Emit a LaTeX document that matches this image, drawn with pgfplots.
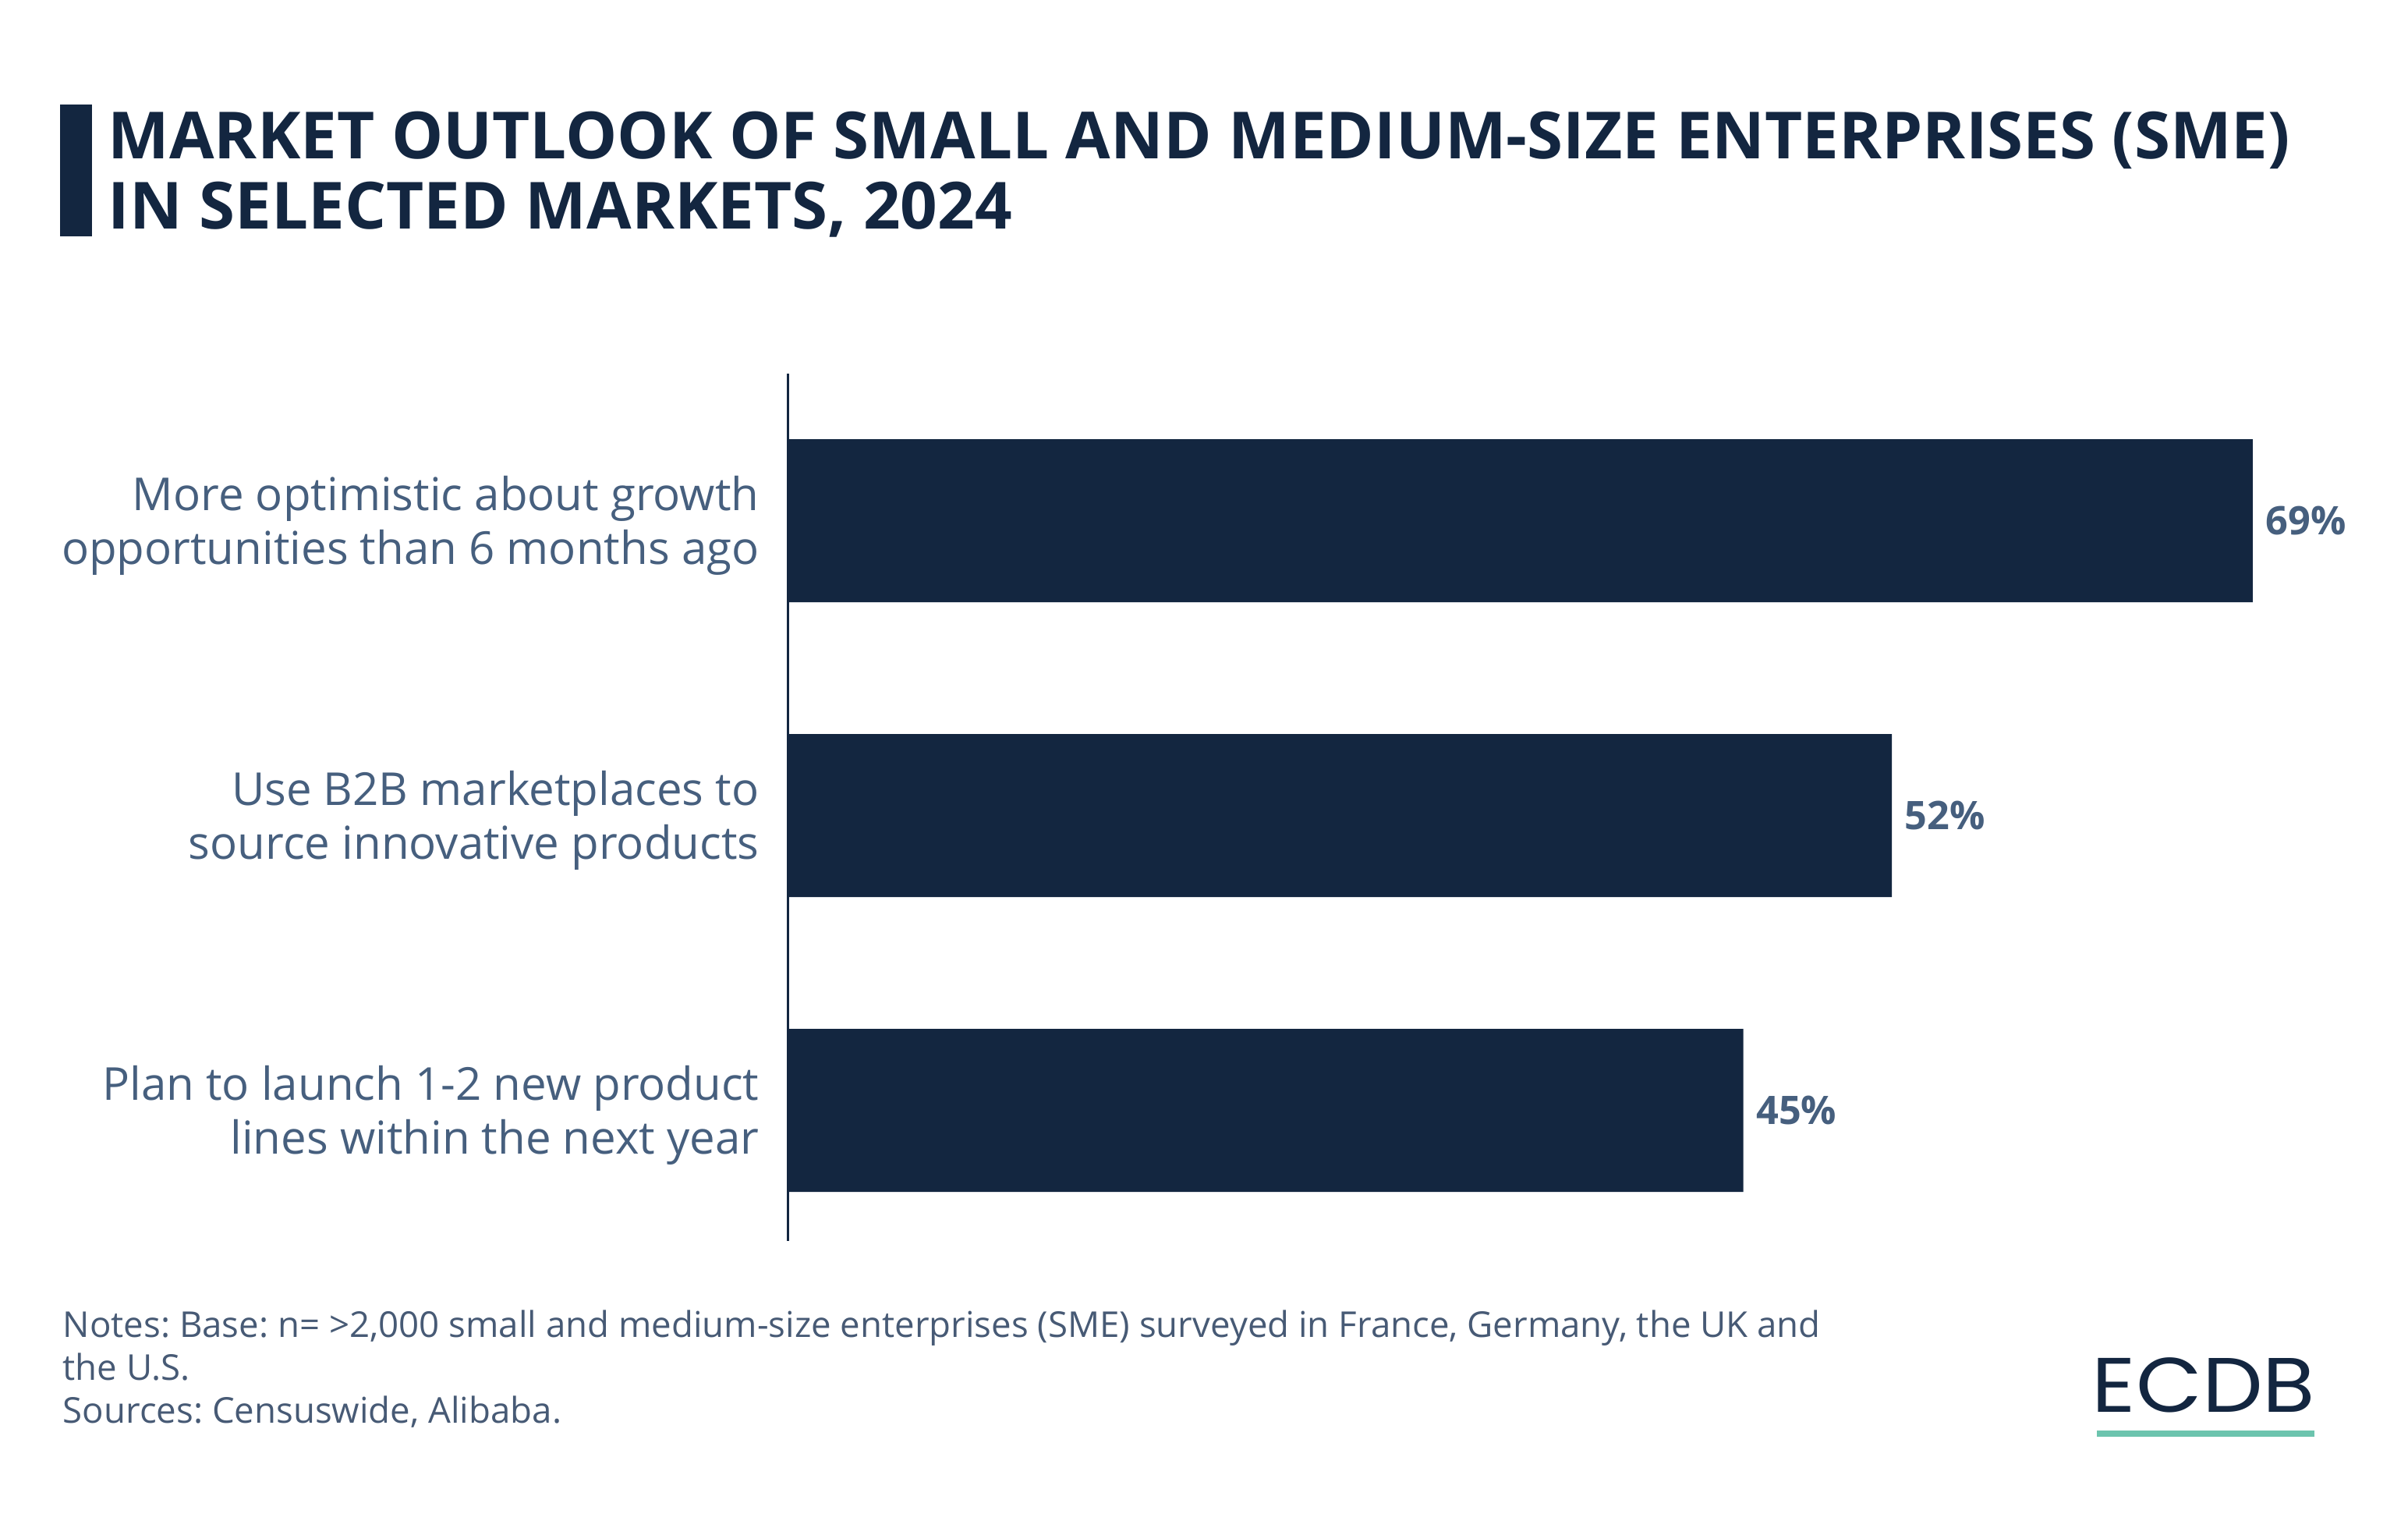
\documentclass[border=0pt]{standalone}
\usepackage{fontspec}
\setmainfont{Open Sans}
\newfontfamily\logofont{Poppins}
\usepackage{pgfplots}
\pgfplotsset{compat=1.18}
\frenchspacing
\definecolor{navy}{HTML}{132640}
\definecolor{slate}{HTML}{465F7E}
\definecolor{notecol}{HTML}{475A75}
\definecolor{ecdbgreen}{HTML}{6CC4AE}
\begin{document}
\begin{tikzpicture}
\path[use as bounding box, fill=white] (0,0) rectangle (772pt,487.5pt);
% title bar
\fill[navy] (19.25pt,411.75pt) rectangle (29.5pt,454pt);
\node[anchor=base west, inner sep=0pt, align=left, text=navy,
  font={\fontsize{20.85}{22.5}\selectfont\bfseries}] at (34.5pt,414pt)
  {MARKET OUTLOOK OF SMALL AND MEDIUM-SIZE ENTERPRISES (SME)\\IN SELECTED MARKETS, 2024};
\begin{axis}[
  at={(252.75pt,89.75pt)}, anchor=south west,
  scale only axis, width=476.25pt, height=278pt,
  xmin=0, xmax=70, ymin=-0.443, ymax=2.499,
  xbar, bar width=52.25pt,
  axis x line=none, axis y line=left,
  y axis line style={-, draw=navy, line width=0.75pt},
  ytick={0,1,2},
  yticklabels={{Plan to launch 1-2 new product\\lines within the next year},
               {Use B2B marketplaces to\\source innovative products},
               {More optimistic about growth\\opportunities than 6 months ago}},
  major tick length=0pt,
  yticklabel style={align=right, anchor=east, inner sep=0pt, xshift=-9.2pt, yshift=-1.5pt,
    text=slate, font={\fontsize{14.55}{17.2}\selectfont}},
  clip=false,
  /pgf/number format/assume math mode=true,
  nodes near coords={\pgfmathprintnumber{\pgfplotspointmeta}\%},
  nodes near coords style={anchor=west, inner sep=0pt, xshift=4pt, text=slate,
    font={\fontsize{12.6}{14}\selectfont\bfseries}},
  point meta=explicit,
]
\addplot[fill=navy, draw=none] coordinates {(45,0) [45] (52,1) [52] (69,2) [69]};
\end{axis}
% notes
\node[anchor=base west, inner sep=0pt, align=left, text=notecol,
  font={\fontsize{11.4}{13.75}\selectfont}] at (20pt,31.25pt)
  {Notes: Base: n= >2,000 small and medium-size enterprises (SME) surveyed in France, Germany, the UK and\\the U.S.\\Sources: Censuswide, Alibaba.};
% logo
\node[anchor=base west, inner sep=0pt, text=navy,
  font={\fontsize{24.75}{26}\selectfont\logofont}] at (670.5pt,34.75pt) {\scalebox{1.11}[1]{ECDB}};
\draw[ecdbgreen, line width=2pt] (672.25pt,28pt) -- (742pt,28pt);
\end{tikzpicture}
\end{document}
